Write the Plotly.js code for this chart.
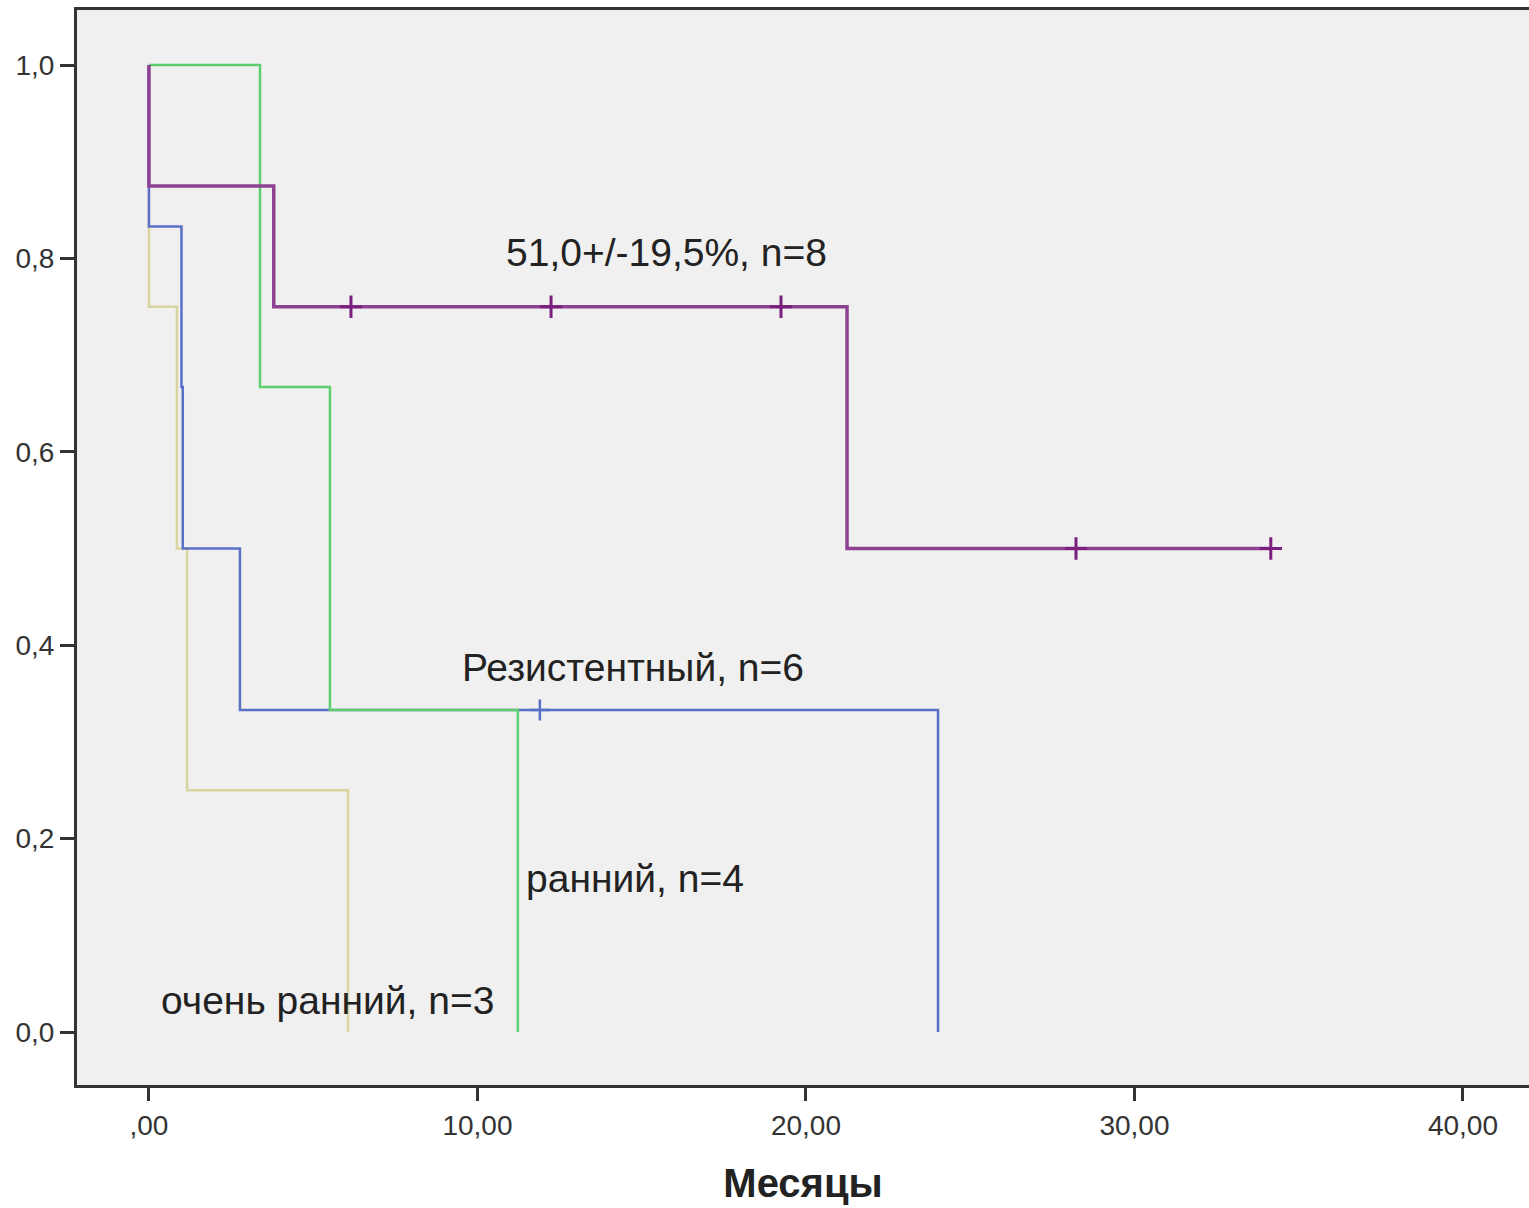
<!DOCTYPE html>
<html>
<head>
<meta charset="utf-8">
<script src="https://cdn.plot.ly/plotly-3.0.1.min.js"></script>
<style>
  html, body { margin: 0; padding: 0; background: #ffffff; }
  #chart { width: 1529px; height: 1208px; }
</style>
</head>
<body>
<div id="chart"></div>
<script>
// ---- Data (Kaplan-Meier step curves) ----
// очень ранний, n=3
const veryEarlyTime = [0, 0, 0.85, 1.16, 6.06];
const veryEarlySurv = [1.0, 0.75, 0.5, 0.25, 0.0];

// Резистентный, n=6
const resistTime = [0, 0, 0.99, 1.03, 2.77, 24.02];
const resistSurv = [1.0, 0.833, 0.667, 0.5, 0.333, 0.0];
const resistCensTime = [11.9];
const resistCensSurv = [0.333];

// ранний, n=4
const earlyTime = [0, 3.38, 5.51, 11.23];
const earlySurv = [1.0, 0.667, 0.333, 0.0];

// 51,0+/-19,5%, n=8
const lateTime = [0, 0, 3.8, 21.25, 34.15];
const lateSurv = [1.0, 0.875, 0.75, 0.5, 0.5];
const lateCensTime = [6.15, 12.24, 19.24, 28.22, 34.15];
const lateCensSurv = [0.75, 0.75, 0.75, 0.5, 0.5];

// Axis ticks
const xTickVals = [0, 10, 20, 30, 40];
const xTickText = [',00', '10,00', '20,00', '30,00', '40,00'];
const yTickVals = [0, 0.2, 0.4, 0.6, 0.8, 1.0];
const yTickText = ['0,0', '0,2', '0,4', '0,6', '0,8', '1,0'];

// Curve labels
const labelTexts = ['51,0+/-19,5%, n=8', 'Резистентный, n=6', 'ранний, n=4', 'очень ранний, n=3'];
const xAxisTitle = 'Месяцы';

// ---- Styling / layout ----
const FONT = '"Liberation Sans", Arial, sans-serif';
const colors = { veryEarly: '#d8d5a3', resist: '#5a6fc6', early: '#5dcf6e', late: '#8d4191', lateCens: '#7a1f7e' };
const labelPos = [[10.80, 0.806], [9.47, 0.377], [11.42, 0.159], [0.30, 0.033]];

const traces = [
  { x: veryEarlyTime, y: veryEarlySurv, mode: 'lines', line: { shape: 'hv', color: colors.veryEarly, width: 2.5 } },
  { x: resistTime, y: resistSurv, mode: 'lines', line: { shape: 'hv', color: colors.resist, width: 2.5 } },
  { x: resistCensTime, y: resistCensSurv, mode: 'markers',
    marker: { symbol: 'cross-thin-open', size: 15, color: colors.resist, line: { color: colors.resist, width: 2.5 } } },
  { x: earlyTime, y: earlySurv, mode: 'lines', line: { shape: 'hv', color: colors.early, width: 2.5 } },
  { x: lateTime, y: lateSurv, mode: 'lines', line: { shape: 'hv', color: colors.late, width: 3.5 } },
  { x: lateCensTime, y: lateCensSurv, mode: 'markers',
    marker: { symbol: 'cross-thin-open', size: 16, color: colors.lateCens, line: { color: colors.lateCens, width: 3 } } }
];

const annotations = labelTexts.map((t, i) => ({
  text: t, x: labelPos[i][0], y: labelPos[i][1], xref: 'x', yref: 'y',
  xanchor: 'left', yanchor: 'middle', showarrow: false,
  font: { family: FONT, size: 39, color: '#222222' }
}));

const layout = {
  width: 1529, height: 1208,
  margin: { l: 77, r: 0, t: 10, b: 123, pad: 0 },
  paper_bgcolor: '#ffffff',
  plot_bgcolor: '#f0f0f0',
  showlegend: false,
  font: { family: FONT, color: '#333333' },
  xaxis: {
    range: [-2.19, 42.01],
    tickvals: xTickVals, ticktext: xTickText,
    ticks: 'outside', ticklen: 13, tickwidth: 3, tickcolor: '#333333',
    showline: true, linewidth: 3, linecolor: '#333333', mirror: true,
    showgrid: false, zeroline: false,
    tickfont: { family: FONT, size: 28, color: '#333333' },
    title: { text: '<b>' + xAxisTitle + '</b>', font: { family: FONT, size: 40, color: '#222222' }, standoff: 30 }
  },
  yaxis: {
    range: [-0.0548, 1.0569],
    tickvals: yTickVals, ticktext: yTickText,
    ticks: 'outside', ticklen: 14, tickwidth: 3, tickcolor: '#333333',
    showline: true, linewidth: 3, linecolor: '#333333', mirror: false,
    showgrid: false, zeroline: false,
    tickfont: { family: FONT, size: 28, color: '#333333' }
  },
  annotations: annotations
};

Plotly.newPlot('chart', traces, layout, { displayModeBar: false, staticPlot: true });
</script>
</body>
</html>
